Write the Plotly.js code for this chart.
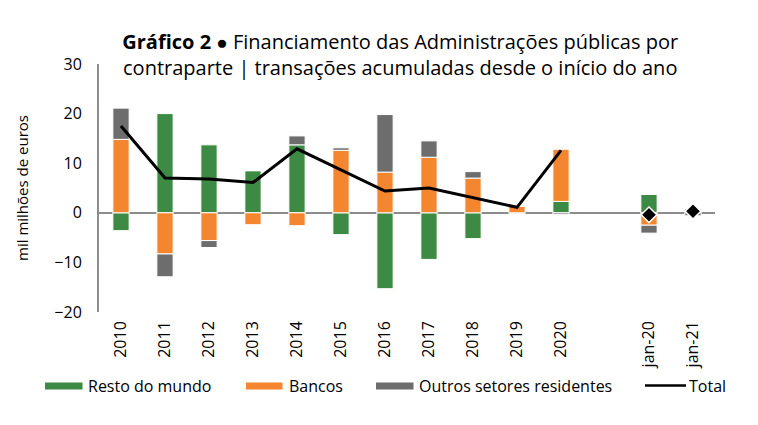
<!DOCTYPE html>
<html>
<head>
<meta charset="utf-8">
<script src="https://cdn.plot.ly/plotly-3.0.1.min.js"></script>
<style>html,body{margin:0;padding:0;background:#fff;}#chart{width:758px;height:425px;}</style>
</head>
<body>
<div id="chart"></div>
<script>
// Categories (blank slot separates annual data from monthly data)
const categories = ['2010','2011','2012','2013','2014','2015','2016','2017','2018','2019','2020',' ','jan-20','jan-21'];
// Series values (mil milhões de euros)
const restoDoMundo = [-3.6, 20.0, 13.7, 8.5, 13.7, -4.4, -15.3, -9.4, -5.2, -0.1, 2.3, null, 3.7, 0.8];
const bancos       = [14.8, -8.3, -5.6, -2.4, -2.6, 12.6, 8.2, 11.2, 7.0, 1.3, 10.5, null, -2.5, 0.1];
const outros       = [6.3, -4.6, -1.4, 0.0, 1.8, 0.5, 11.6, 3.3, 1.3, 0.0, -0.3, null, -1.6, -0.6];
const totalAnual   = [17.5, 7.0, 6.8, 6.1, 12.9, 8.7, 4.4, 5.0, 3.1, 1.1, 12.6, null, null, null];
const totalMensal  = [null, null, null, null, null, null, null, null, null, null, null, null, -0.4, 0.3];
const yTickVals = [-20, -10, 0, 10, 20, 30];
const seriesNames = ['Resto do mundo', 'Bancos', 'Outros setores residentes', 'Total'];

const GREEN = '#3c8a43', ORANGE = '#f4862f', GRAY = '#6d6d6d', BLACK = '#000000';
const barLine = {color: '#ffffff', width: 1};

// plot area geometry (pixels) used to place the hand-made legend
const M = {l: 99, r: 43, t: 64, b: 113};
const W = 758, H = 425;
const PW = W - M.l - M.r, PH = H - M.t - M.b;
const px = v => (v - M.l) / PW;
const py = v => (H - M.b - v) / PH;

const traces = [
  {type:'bar', x:categories, y:restoDoMundo, name:seriesNames[0], marker:{color:GREEN, line:barLine}, width:0.37},
  {type:'bar', x:categories, y:bancos, name:seriesNames[1], marker:{color:ORANGE, line:barLine}, width:0.37},
  {type:'bar', x:categories, y:outros, name:seriesNames[2], marker:{color:GRAY, line:barLine}, width:0.37},
  {type:'scatter', mode:'lines', x:categories, y:totalAnual, name:seriesNames[3], line:{color:BLACK, width:3}},
  {type:'scatter', mode:'markers', x:categories, y:totalMensal, name:seriesNames[3], marker:{symbol:'diamond', size:12, color:BLACK, line:{color:'#fff', width:1.5}}}
];

// legend (custom, to match swatch shapes and spacing)
const legendItems = [
  {name: seriesNames[0], color: GREEN, kind: 'rect', x0: 45, x1: 82.5, tx: 86},
  {name: seriesNames[1], color: ORANGE, kind: 'rect', x0: 246, x1: 282.5, tx: 287},
  {name: seriesNames[2], color: GRAY, kind: 'rect', x0: 376, x1: 413.5, tx: 417},
  {name: seriesNames[3], color: BLACK, kind: 'line', x0: 645, x1: 686, tx: 687}
];
const LY = 386;
const shapes = [], annotations = [];
legendItems.forEach(it => {
  if (it.kind === 'rect') {
    shapes.push({type:'rect', xref:'paper', yref:'paper', x0:px(it.x0), x1:px(it.x1), y0:py(LY-3.6), y1:py(LY+3.6), fillcolor:it.color, line:{width:0}});
  } else {
    shapes.push({type:'line', xref:'paper', yref:'paper', x0:px(it.x0), x1:px(it.x1), y0:py(LY-0.5), y1:py(LY-0.5), line:{color:it.color, width:2.5}});
  }
  annotations.push({text: it.name, xref:'paper', yref:'paper', x:px(it.tx), y:py(LY), xanchor:'left', yanchor:'middle', showarrow:false, font:{size:16, color:'#000'}});
});

const layout = {
  width: W, height: H,
  margin: M,
  paper_bgcolor: '#fff', plot_bgcolor: '#fff',
  font: {family: '"Open Sans", sans-serif', color: '#000', size: 15},
  barmode: 'relative',
  showlegend: false,
  title: {
    text: '<b>Gráfico 2</b> <span style="font-size:19px">●</span> Financiamento das Administrações públicas por<br>contraparte | transações acumuladas desde o início do ano',
    font: {size: 20, color: '#000'},
    xref: 'container', x: 0.528, xanchor: 'center',
    yref: 'container', y: 0.885, yanchor: 'top'
  },
  xaxis: {
    type: 'category', categoryorder: 'array', categoryarray: categories,
    range: [-0.5, 13.5],
    showline: false, showgrid: false, zeroline: false, ticks: '',
    tickangle: -90, tickfont: {size: 16, color: '#000'},
    ticklabelstandoff: 5
  },
  yaxis: {
    range: [-20, 30], tickvals: yTickVals,
    showline: true, linecolor: '#8c8c8c', linewidth: 2,
    showgrid: false, zeroline: true, zerolinecolor: '#8c8c8c', zerolinewidth: 2,
    ticks: '', tickfont: {size: 16, color: '#000'},
    ticklabelstandoff: 12,
    title: {text: 'mil milhões de euros', font: {size: 15, color: '#000'}, standoff: 22}
  },
  shapes: shapes,
  annotations: annotations
};

Plotly.newPlot('chart', traces, layout, {displayModeBar: false, staticPlot: true});
</script>
</body>
</html>
